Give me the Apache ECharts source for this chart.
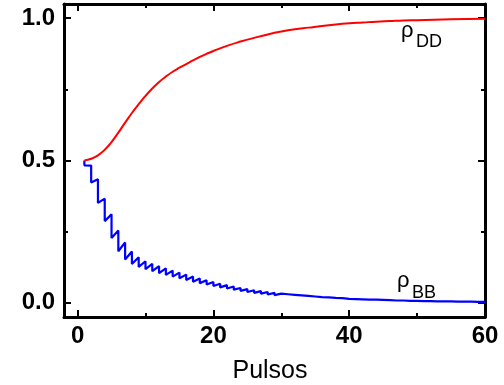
<!DOCTYPE html>
<html>
<head>
<meta charset="utf-8">
<script src="https://cdn.jsdelivr.net/npm/echarts@6/dist/echarts.min.js"></script>
<style>
  html, body { margin: 0; padding: 0; background: #ffffff; }
  #chart { width: 504px; height: 385px; }
</style>
</head>
<body>
<div id="chart"></div>
<script>
// rho_DD: smooth rise from 0.5 towards 1
const ddPulse = [1, 2, 3, 4, 5, 6, 7, 8, 9, 10, 11, 12, 13, 14, 15, 16, 17, 18, 19, 20,
  22, 24, 26, 28, 30, 32, 34, 36, 38, 40, 42, 44, 46, 48, 50, 55, 60];
const ddValue = [0.500, 0.506, 0.518, 0.538, 0.565, 0.598, 0.633, 0.667, 0.698, 0.727,
  0.753, 0.776, 0.795, 0.812, 0.826, 0.839, 0.852, 0.864, 0.875, 0.885,
  0.903, 0.918, 0.931, 0.943, 0.953, 0.961, 0.967, 0.973, 0.978, 0.982,
  0.985, 0.988, 0.990, 0.992, 0.993, 0.996, 0.998];

// rho_BB: value just before and just after each pulse (sawtooth)
const bbPulse = [1, 2, 3, 4, 5, 6, 7, 8, 9, 10, 11, 12, 13, 14, 15, 16, 17, 18, 19, 20,
  21, 22, 23, 24, 25, 26, 27, 28, 29, 30, 31, 32, 33, 34, 35, 36, 37, 38, 39, 40,
  41, 42, 43, 44, 45, 46, 47, 48, 49, 50, 51, 52, 53, 54, 55, 56, 57, 58, 59, 60];
const bbBefore = [0.500, 0.482, 0.434, 0.366, 0.311, 0.254, 0.212, 0.180, 0.160, 0.146,
  0.137, 0.129, 0.121, 0.113, 0.106, 0.099, 0.092, 0.085, 0.079, 0.073,
  0.067, 0.062, 0.057, 0.052, 0.048, 0.044, 0.041, 0.038, 0.035, 0.032,
  0.030, 0.028, 0.026, 0.024, 0.022, 0.020, 0.019, 0.017, 0.016, 0.014,
  0.013, 0.012, 0.011, 0.011, 0.010, 0.009, 0.008, 0.008, 0.007, 0.007,
  0.006, 0.006, 0.005, 0.005, 0.005, 0.004, 0.004, 0.004, 0.003, 0.003];
const bbAfter = [0.483, 0.423, 0.351, 0.287, 0.228, 0.181, 0.152, 0.136, 0.126, 0.118,
  0.111, 0.104, 0.098, 0.092, 0.086, 0.080, 0.074, 0.069, 0.064, 0.059,
  0.054, 0.050, 0.046, 0.042, 0.038, 0.035, 0.032, 0.029, 0.027, 0.025,
  0.024, 0.022, 0.020, 0.019, 0.017, 0.016, 0.015, 0.013, 0.012, 0.011,
  0.010, 0.010, 0.009, 0.008, 0.008, 0.007, 0.007, 0.006, 0.006, 0.005,
  0.005, 0.005, 0.004, 0.004, 0.004, 0.003, 0.003, 0.003, 0.003, 0.002];

const xMajor = [0, 20, 40, 60];
const xMinor = [10, 30, 50];
const yMajor = [0, 0.5, 1];
const yMinor = [0.25, 0.75];

const FONT = "'Liberation Sans', Arial, sans-serif";

const ddData = ddPulse.map((x, i) => [x, ddValue[i]]);
const bbData = [];
bbPulse.forEach((x, i) => {
  bbData.push([x, bbBefore[i]]);
  bbData.push([x, bbAfter[i]]);
});

const lineStyle = { color: "#000000", width: 3 };

function xAxisDef(position, ticks, len, showLine, showLabel) {
  return {
    type: "value",
    position,
    min: -2,
    max: 60,
    axisLine: { show: showLine, onZero: false, lineStyle },
    splitLine: { show: false },
    axisTick: { show: true, inside: true, length: len, customValues: ticks, lineStyle: { color: "#000", width: 2 } },
    axisLabel: {
      show: showLabel,
      customValues: ticks,
      margin: 7,
      color: "#000",
      fontFamily: FONT,
      fontSize: 24,
      fontWeight: "bold",
    },
  };
}

function yAxisDef(position, ticks, len, showLine, showLabel) {
  return {
    type: "value",
    position,
    min: -0.05,
    max: 1.05,
    axisLine: { show: showLine, onZero: false, lineStyle },
    splitLine: { show: false },
    axisTick: { show: true, inside: true, length: len, customValues: ticks, lineStyle: { color: "#000", width: 2 } },
    axisLabel: {
      show: showLabel,
      customValues: ticks,
      margin: 9,
      color: "#000",
      fontFamily: FONT,
      fontSize: 24,
      fontWeight: "bold",
      formatter: (v) => v.toFixed(1),
    },
  };
}

const xBottom = xAxisDef("bottom", xMajor, 7, true, true);
xBottom.name = "Pulsos";
xBottom.nameLocation = "middle";
xBottom.nameGap = 42;
xBottom.nameTextStyle = { color: "#000", fontFamily: FONT, fontSize: 25, padding: [0, 9, 0, 0] };

const chart = echarts.init(document.getElementById("chart"));
chart.setOption({
  animation: false,
  backgroundColor: "#ffffff",
  grid: { left: 64, right: 19, top: 4, bottom: 68, containLabel: false, outerBoundsMode: "none" },
  xAxis: [
    xBottom,
    xAxisDef("bottom", xMinor, 4, false, false),
    xAxisDef("top", xMajor, 7, true, false),
    xAxisDef("top", xMinor, 4, false, false),
  ],
  yAxis: [
    yAxisDef("left", yMajor, 7, true, true),
    yAxisDef("left", yMinor, 4, false, false),
    yAxisDef("right", yMajor, 7, true, false),
    yAxisDef("right", yMinor, 4, false, false),
  ],
  series: [
    {
      name: "ρDD",
      type: "line",
      xAxisIndex: 0,
      yAxisIndex: 0,
      data: ddData,
      smooth: true,
      showSymbol: false,
      lineStyle: { color: "#ff0000", width: 2 },
      z: 3,
    },
    {
      name: "ρBB",
      type: "line",
      xAxisIndex: 0,
      yAxisIndex: 0,
      data: bbData,
      showSymbol: false,
      lineStyle: { color: "#0000ff", width: 2.2 },
      z: 2,
    },
  ],
  graphic: [
    { type: "text", x: 401, y: 31, style: { text: "ρ", font: "22px " + FONT, fill: "#000", verticalAlign: "middle" } },
    { type: "text", x: 416, y: 42, style: { text: "DD", font: "18px " + FONT, fill: "#000", verticalAlign: "middle" } },
    { type: "text", x: 397, y: 281, style: { text: "ρ", font: "22px " + FONT, fill: "#000", verticalAlign: "middle" } },
    { type: "text", x: 412, y: 293, style: { text: "BB", font: "18px " + FONT, fill: "#000", verticalAlign: "middle" } },
  ],
});
</script>
</body>
</html>
